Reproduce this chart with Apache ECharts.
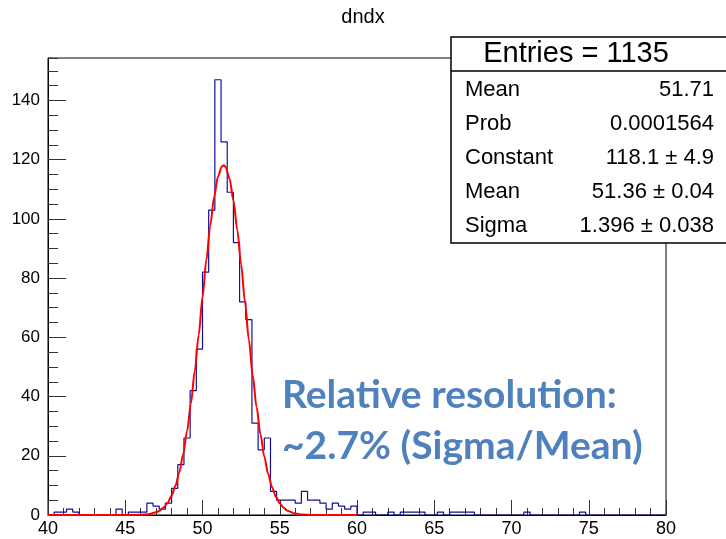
<!DOCTYPE html>
<html><head><meta charset="utf-8">
<script src="https://cdn.jsdelivr.net/npm/echarts@6/dist/echarts.min.js"></script>
<style>html,body{margin:0;padding:0;background:#fff}#c{width:726px;height:539px}</style>
</head><body><div id="c"></div>
<script>
// ---- data ----
const binStart = 40, binWidth = 0.4;
const counts = [
  0,1,1,2,1,0,0,0,0,0,
  0,2,0,1,1,1,4,3,2,4,
  9,17,26,42,56,82,103,147,126,109,
  92,72,66,31,22,26,8,5,5,5,
  4,8,5,5,4,2,4,3,2,3,
  0,1,1,0,0,1,0,1,1,1,
  1,0,0,1,0,1,1,1,1,0,
  0,0,0,0,0,0,0,1,0,0,
  0,0,0,0,0,0,1,0,0,0,
  0,0,0,0,0,0,0,0,0,0
];
// gaus fit curve values
const fitX = [40,45,46,46.5,47,47.25,47.5,47.75,48,48.25,48.5,48.75,49,49.25,49.5,49.75,50,50.25,50.5,50.75,51,51.25,51.375,51.5,51.75,52,52.25,52.5,52.75,53,53.25,53.5,53.75,54,54.25,54.5,54.75,55,55.25,55.5,56,56.5,57,58,60];
const fitY = [0,0,0.07,0.28,0.9,1.55,2.58,4.17,6.52,9.87,14.48,20.56,28.29,37.69,48.61,60.73,73.48,86.1,97.68,107.34,114.24,117.73,118.1,117.51,113.58,106.31,96.38,84.62,71.94,59.22,47.23,36.47,27.28,19.76,13.86,9.41,6.19,3.94,2.43,1.45,0.47,0.13,0.03,0,0];
const xTicks = [40,45,50,55,60,65,70,75,80];
const yTicks = [0,20,40,60,80,100,120,140];
const yMax = 154.35;
const title = 'dndx';
const entriesText = 'Entries = 1135';
const statLabels = ['Mean','Prob','Constant','Mean','Sigma'];
const statValues = ['51.71','0.0001564','118.1 \u00b1 4.9','51.36 \u00b1 0.04','1.396 \u00b1 0.038'];
const noteLines = ['Relative resolution:', '~2.7% (Sigma/Mean)'];

// ---- build ----
const histData = counts.map((c, i) => [binStart + i * binWidth, c]);
histData.push([binStart + counts.length * binWidth, counts[counts.length - 1]]);
const fitData = fitX.map((x, i) => [x, fitY[i]]);

const F = '"Liberation Sans", Arial, sans-serif';
const chart = echarts.init(document.getElementById('c'), null, {renderer: 'canvas'});

const statRows = [];
statLabels.forEach((l, i) => {
  const y = 90 + i * 34;
  statRows.push({type: 'text', z: 101, style: {x: 465, y: y, text: l, font: '22px ' + F, fill: '#000', textVerticalAlign: 'middle'}});
  statRows.push({type: 'text', z: 101, style: {x: 714, y: y, text: statValues[i], font: '22px ' + F, fill: '#000', textAlign: 'right', textVerticalAlign: 'middle'}});
});

chart.setOption({
  animation: false,
  backgroundColor: '#fff',
  title: {text: title, left: 'center', top: 2, textStyle: {fontFamily: F, fontWeight: 'normal', fontSize: 20, color: '#000'}},
  grid: {left: 48, right: 60, top: 58, bottom: 24, show: true, borderColor: '#000', borderWidth: 1},
  xAxis: {
    type: 'value', min: xTicks[0], max: xTicks[xTicks.length - 1], interval: 5,
    axisLine: {lineStyle: {color: '#000', width: 1}},
    axisTick: {inside: true, length: 15, lineStyle: {color: '#333'}},
    minorTick: {show: true, splitNumber: 5, length: 7, lineStyle: {color: '#333'}},
    splitLine: {show: false},
    axisLabel: {fontFamily: F, fontSize: 18, color: '#000', margin: 5, formatter: v => xTicks.includes(v) ? String(v) : ''}
  },
  yAxis: [{
    type: 'value', min: 0, max: yMax, interval: 20, position: 'left',
    axisLine: {show: true, lineStyle: {color: '#000', width: 1}},
    axisTick: {inside: true, length: 18, lineStyle: {color: '#333'}},
    splitLine: {show: false},
    axisLabel: {fontFamily: F, fontSize: 17, color: '#000', margin: 8, showMaxLabel: false, formatter: v => yTicks.includes(v) ? String(v) : ''}
  }, {
    type: 'value', min: 0, max: yMax, interval: 5, position: 'left', offset: 0,
    axisLine: {show: false},
    axisTick: {inside: true, length: 10, lineStyle: {color: '#333'}},
    splitLine: {show: false},
    axisLabel: {show: false}
  }],
  series: [{
    type: 'line', step: 'end', data: histData, symbol: 'none',
    lineStyle: {color: '#10109c', width: 1.2}, z: 3
  }, {
    type: 'line', data: fitData, symbol: 'none', smooth: 0.3, smoothMonotone: 'x',
    lineStyle: {color: '#ff0000', width: 2}, z: 4
  }],
  graphic: [
    {type: 'rect', z: 100, shape: {x: 451, y: 37, width: 290, height: 206}, style: {fill: '#fff', stroke: '#000', lineWidth: 1.5}},
    {type: 'line', z: 101, shape: {x1: 451, y1: 71, x2: 726, y2: 71}, style: {stroke: '#000', lineWidth: 1.5}},
    {type: 'text', z: 101, style: {x: 576, y: 54, text: entriesText, font: '29px ' + F, fill: '#000', textAlign: 'center', textVerticalAlign: 'middle'}},
    ...statRows,
    {type: 'text', z: 102, style: {x: 282, y: 395, text: noteLines[0], font: 'bold 39px Lato, "Open Sans", sans-serif', fill: '#4f81bd', textVerticalAlign: 'middle'}},
    {type: 'text', z: 102, style: {x: 282, y: 446, text: noteLines[1], font: 'bold 39px Lato, "Open Sans", sans-serif', fill: '#4f81bd', textVerticalAlign: 'middle'}}
  ]
});
</script></body></html>
